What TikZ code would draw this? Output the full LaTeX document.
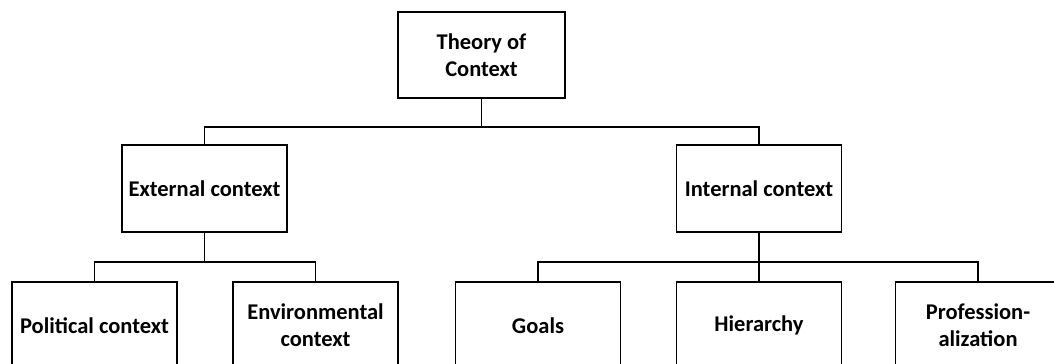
\documentclass[tikz,border=0pt]{standalone}
\usepackage{fontspec}
\setmainfont{Carlito}
\tikzset{
    kasten/.style={draw, line width=1pt, minimum width=3.3cm, minimum height=1.74cm,
        align=center, font=\bfseries\fontsize{12.8}{15.5}\selectfont},
    linie/.style={line width=1pt}
}
\begin{document}
\begin{tikzpicture}[x=0.02cm,y=-0.02cm]
    \clip (0,0) rectangle (1054,364);
    \fill[white] (0,0) rectangle (1054,364);

    \node[kasten, minimum height=1.72cm, minimum width=3.34cm] (theory) at (481.5,55) {Theory of\\Context};
    \node[kasten] (ext) at (204.5,188.5) {External context};
    \node[kasten] (int) at (759,188.5) {Internal context};

    \node[kasten] (pol) at (94.5,325.5) {Political context};
    \node[kasten] (env) at (315.5,325.5) {Environmental\\context};
    \node[kasten] (goals) at (538,325.5) {Goals};
    \node[kasten] (hier) at (759,325.5) {Hierarchy};
    \node[kasten] (prof) at (978,325.5) {Profession-\\alization};

    \coordinate (split1) at (481.5,127);
    \coordinate (split2) at (204.5,262);
    \coordinate (split3) at (759,262);

    \draw[linie] (theory) -- (split1) -| (ext.north);
    \draw[linie] (split1) -| (int.north);
    \draw[linie] (ext) -- (split2) -| (pol.north);
    \draw[linie] (split2) -| (env.north);
    \draw[linie] (int) -- (hier);
    \draw[linie] (split3) -| (goals.north);
    \draw[linie] (split3) -| (prof.north);
\end{tikzpicture}
\end{document}
